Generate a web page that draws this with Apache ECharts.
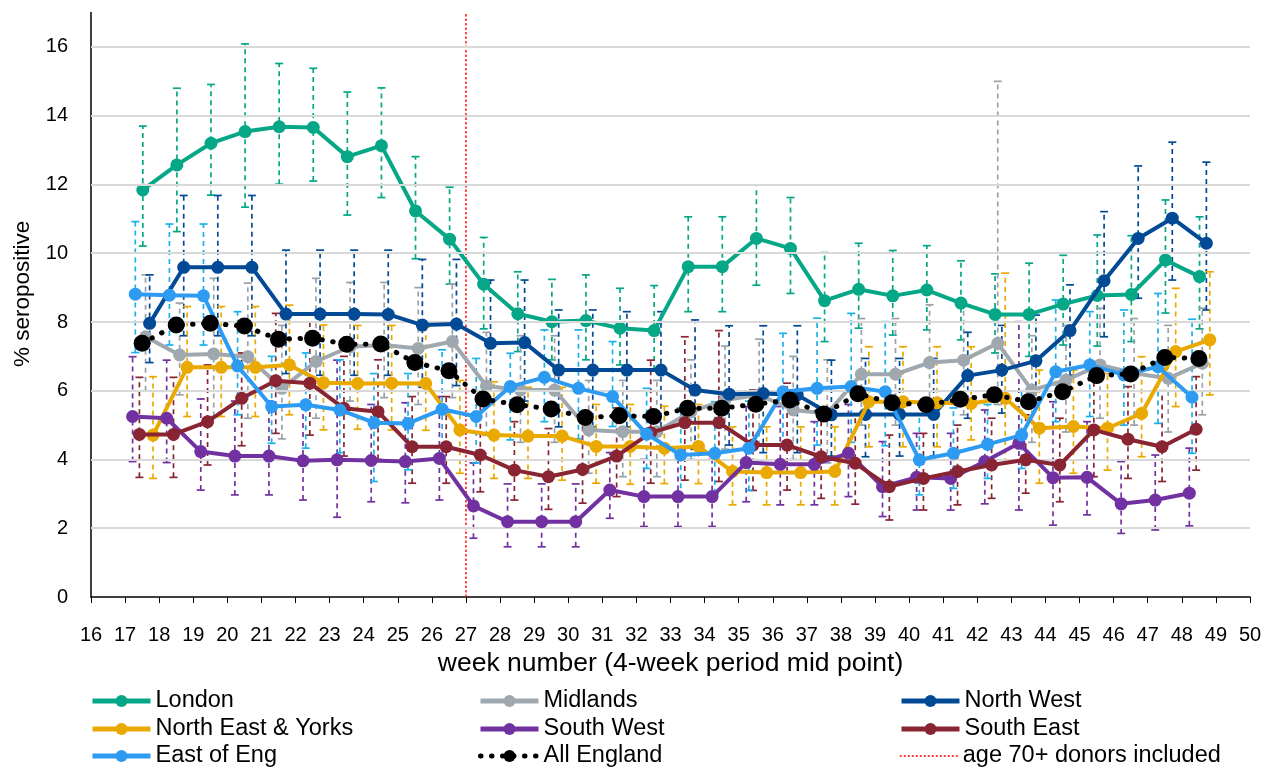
<!DOCTYPE html>
<html>
<head>
<meta charset="utf-8">
<title>% seropositive by region</title>
<script src="https://cdn.jsdelivr.net/npm/echarts@6/dist/echarts.min.js"></script>
<style>
  html, body { margin: 0; padding: 0; background: #ffffff; }
  #chart { width: 1271px; height: 769px; }
</style>
</head>
<body>
<div id="chart"></div>
<script>
// 4-week period mid points (week number) for London / All England
const weeks = [17.5, 18.5, 19.5, 20.5, 21.5, 22.5, 23.5, 24.5, 25.5, 26.5, 27.5, 28.5, 29.5, 30.5, 31.5, 32.5,
               33.5, 34.5, 35.5, 36.5, 37.5, 38.5, 39.5, 40.5, 41.5, 42.5, 43.5, 44.5, 45.5, 46.5, 47.5, 48.5];
const yTicks = [0, 2, 4, 6, 8, 10, 12, 14, 16];
const donorChangeWeek = 27;

// small horizontal shift of each region so the error bars do not overlap
const shiftLondon = 0.02, shiftMidlands = 0.1, shiftNorthWest = 0.22, shiftNEY = 0.32,
      shiftSouthWest = -0.28, shiftSouthEast = -0.08, shiftEast = -0.2, shiftEngland = 0;

const london     = [11.84, 12.57, 13.2, 13.54, 13.68, 13.66, 12.81, 13.13, 11.23, 10.41, 9.1, 8.24, 8.01, 8.04, 7.82, 7.75,
                    9.61, 9.61, 10.43, 10.14, 8.62, 8.95, 8.76, 8.93, 8.55, 8.22, 8.22, 8.52, 8.77, 8.8, 9.8, 9.32];
const londonHi   = [13.7, 14.8, 14.91, 16.09, 15.52, 15.38, 14.69, 14.81, 12.81, 11.92, 10.46, 9.46, 9.24, 9.37, 8.98, 9.06,
                    11.06, 11.06, 11.99, 11.62, 10.02, 10.29, 10.08, 10.22, 9.78, 9.4, 9.71, 9.94, 10.53, 10.51, 11.55, 11.06];
const londonLo   = [10.21, 10.63, 11.69, 11.34, 12.01, 12.1, 11.11, 11.62, 9.84, 9.1, 7.8, 7.14, 6.9, 6.9, 6.75, 6.6,
                    8.3, 8.3, 9.07, 8.83, 7.43, 7.82, 7.62, 7.77, 7.48, 7.1, 7.0, 7.33, 7.3, 7.43, 8.26, 7.8];

const midlands   = [7.57, 7.04, 7.07, 6.99, 6.07, 6.85, 7.28, 7.33, 7.23, 7.43, 6.14, 6.02, 6.02, 4.86, 4.81, 4.81,
                    5.39, 5.73, 5.88, 5.44, 5.34, 6.48, 6.48, 6.82, 6.89, 7.38, 6.02, 6.31, 6.75, 6.51, 6.36, 6.8];
const midlandsHi = [9.37, 8.55, 9.27, 9.13, 7.9, 9.27, 9.15, 9.15, 9.0, 9.1, 7.7, 7.6, 7.6, 6.3, 6.3, 6.3,
                    6.9, 7.3, 7.5, 7.0, 6.9, 8.1, 8.1, 8.5, 8.5, 15.0, 7.6, 7.9, 8.4, 8.1, 7.9, 8.4];
const midlandsLo = [6.0, 5.88, 5.25, 5.2, 4.6, 5.2, 5.7, 5.8, 5.6, 5.8, 4.7, 4.5, 4.5, 3.6, 3.5, 3.5,
                    4.0, 4.3, 4.4, 4.0, 3.9, 5.0, 5.0, 5.3, 5.3, 5.6, 4.5, 4.8, 5.2, 5.0, 4.8, 5.3];

const northWest   = [7.96, 9.59, 9.59, 9.59, 8.23, 8.23, 8.23, 8.22, 7.91, 7.94, 7.38, 7.4, 6.6, 6.6, 6.6, 6.6,
                     6.02, 5.9, 5.92, 5.88, 5.3, 5.31, 5.31, 5.31, 6.44, 6.6, 6.87, 7.75, 9.2, 10.43, 11.02, 10.29];
const northWestHi = [9.37, 11.68, 11.68, 11.68, 10.09, 10.09, 10.09, 10.09, 9.82, 9.82, 9.22, 9.22, 8.35, 8.35, 8.3, 8.3,
                     8.06, 7.89, 7.89, 7.89, 6.89, 6.94, 6.94, 6.94, 7.7, 7.9, 8.2, 9.08, 11.21, 12.54, 13.23, 12.65];
const northWestLo = [6.82, 7.6, 7.6, 7.6, 6.5, 6.45, 6.45, 6.45, 6.1, 6.15, 5.7, 5.7, 4.95, 4.95, 4.95, 4.95,
                     4.3, 4.42, 4.2, 4.2, 4.1, 4.08, 4.1, 4.1, 5.2, 5.35, 5.6, 6.45, 7.57, 8.69, 9.22, 8.35];

const northEastYorks   = [4.71, 6.68, 6.68, 6.68, 6.75, 6.23, 6.21, 6.22, 6.21, 4.86, 4.71, 4.68, 4.68, 4.38, 4.38, 4.33,
                          4.38, 3.65, 3.62, 3.62, 3.65, 5.68, 5.68, 5.65, 5.63, 5.78, 4.91, 4.96, 4.91, 5.34, 7.14, 7.48];
const northEastYorksHi = [6.41, 8.45, 8.45, 8.45, 8.49, 7.91, 7.9, 7.9, 7.85, 6.3, 6.26, 6.1, 6.1, 5.6, 5.6, 5.55,
                          5.6, 4.95, 4.95, 4.95, 4.95, 7.28, 7.28, 7.28, 7.28, 9.42, 6.6, 6.6, 6.5, 6.99, 8.98, 9.46];
const northEastYorksLo = [3.45, 5.25, 5.25, 5.25, 5.3, 4.86, 4.88, 4.86, 4.85, 3.6, 3.45, 3.45, 3.4, 3.31, 3.28, 3.3,
                          3.3, 2.68, 2.68, 2.68, 2.68, 4.37, 4.37, 4.37, 4.57, 3.9, 3.31, 3.6, 3.69, 4.08, 5.54, 5.88];

const southWest   = [5.25, 5.2, 4.23, 4.1, 4.1, 3.96, 3.99, 3.97, 3.94, 4.03, 2.65, 2.19, 2.19, 2.19, 3.11, 2.92,
                     2.92, 2.92, 3.91, 3.86, 3.86, 4.18, 3.21, 3.48, 3.45, 3.94, 4.47, 3.47, 3.48, 2.71, 2.82, 3.02];
const southWestHi = [6.99, 6.89, 5.76, 5.7, 5.7, 5.6, 6.89, 5.6, 5.65, 5.83, 3.9, 3.29, 3.29, 3.29, 4.2, 4.0,
                     4.0, 4.0, 5.54, 5.54, 5.1, 5.6, 4.52, 4.76, 4.76, 5.44, 8.01, 5.68, 5.1, 3.94, 4.13, 4.33];
const southWestLo = [3.94, 3.91, 3.11, 2.97, 2.97, 2.82, 2.32, 2.77, 2.74, 2.82, 1.71, 1.46, 1.46, 1.46, 2.29, 2.05,
                     2.05, 2.05, 2.77, 2.68, 2.68, 2.92, 2.34, 2.53, 2.53, 2.71, 2.53, 2.09, 2.39, 1.85, 1.95, 2.07];

const southEast   = [4.73, 4.73, 5.1, 5.78, 6.29, 6.22, 5.49, 5.39, 4.37, 4.37, 4.13, 3.69, 3.5, 3.71, 4.1, 4.78,
                     5.07, 5.07, 4.42, 4.42, 4.08, 3.89, 3.21, 3.45, 3.65, 3.84, 3.99, 3.84, 4.86, 4.59, 4.37, 4.88];
const southEastHi = [6.39, 6.39, 6.75, 7.1, 8.25, 8.0, 7.0, 6.9, 5.83, 5.83, 5.6, 5.1, 4.9, 5.1, 5.5, 6.89,
                     7.57, 7.75, 6.02, 6.22, 5.5, 5.3, 4.71, 4.76, 5.0, 5.2, 5.3, 5.2, 6.6, 6.12, 6.0, 6.41];
const southEastLo = [3.48, 3.48, 3.84, 4.4, 4.76, 4.71, 4.1, 4.0, 3.31, 3.31, 3.06, 2.82, 2.55, 2.73, 2.92, 3.31,
                     3.4, 3.36, 3.1, 3.11, 2.87, 2.7, 2.24, 2.53, 2.68, 2.87, 3.02, 2.77, 3.5, 3.45, 3.36, 3.69];

const eastOfEng   = [8.81, 8.78, 8.76, 6.72, 5.54, 5.59, 5.44, 5.07, 5.05, 5.46, 5.25, 6.12, 6.39, 6.07, 5.83, 4.74,
                     4.13, 4.18, 4.33, 5.97, 6.07, 6.12, 5.97, 3.99, 4.18, 4.44, 4.71, 6.55, 6.75, 6.46, 6.7, 5.81];
const eastOfEngHi = [10.92, 10.85, 10.85, 8.3, 7.0, 7.1, 6.9, 6.5, 6.5, 7.19, 6.94, 7.09, 7.77, 7.77, 7.43, 6.07,
                     5.5, 5.68, 5.7, 7.67, 8.11, 8.25, 8.01, 5.3, 5.5, 5.6, 6.0, 8.64, 8.3, 8.35, 8.83, 8.08];
const eastOfEngLo = [7.11, 7.33, 7.33, 5.3, 4.47, 4.33, 4.2, 3.36, 3.7, 4.1, 3.9, 4.57, 5.1, 4.6, 4.96, 3.74,
                     2.9, 3.0, 3.1, 4.4, 4.42, 4.5, 4.4, 2.97, 3.16, 3.45, 3.74, 5.1, 5.25, 5.0, 5.05, 4.18];

const allEngland = [7.38, 7.91, 7.96, 7.88, 7.5, 7.53, 7.35, 7.36, 6.82, 6.58, 5.76, 5.59, 5.47, 5.22, 5.27, 5.25,
                    5.49, 5.49, 5.61, 5.73, 5.32, 5.91, 5.65, 5.59, 5.75, 5.88, 5.68, 5.97, 6.44, 6.49, 6.97, 6.94];

const FONT = '"Liberation Sans", Arial, sans-serif';
const DONOR_LABEL = 'age 70+ donors included';

const regions = [
  { name: 'London',             color: '#05A786', barColor: '#05A786', shift: shiftLondon,    v: london,         lo: londonLo,         hi: londonHi },
  { name: 'Midlands',           color: '#9FA8AE', barColor: '#9AA2A8', shift: shiftMidlands,  v: midlands,       lo: midlandsLo,       hi: midlandsHi },
  { name: 'North West',         color: '#034A96', barColor: '#034A96', shift: shiftNorthWest, v: northWest,      lo: northWestLo,      hi: northWestHi },
  { name: 'North East & Yorks', color: '#EAA900', barColor: '#EAA900', shift: shiftNEY,       v: northEastYorks, lo: northEastYorksLo, hi: northEastYorksHi },
  { name: 'South West',         color: '#7231A0', barColor: '#7231A0', shift: shiftSouthWest, v: southWest,      lo: southWestLo,      hi: southWestHi },
  { name: 'South East',         color: '#892432', barColor: '#892432', shift: shiftSouthEast, v: southEast,      lo: southEastLo,      hi: southEastHi },
  { name: 'East of Eng',        color: '#2D9BF2', barColor: '#1BB0EC', shift: shiftEast,      v: eastOfEng,      lo: eastOfEngLo,      hi: eastOfEngHi }
];

function errorBarRenderer(color) {
  return function (params, api) {
    const x = api.value(0);
    const lo = api.coord([x, api.value(1)]);
    const hi = api.coord([x, api.value(2)]);
    const cap = 4;
    return {
      type: 'group',
      children: [
        { type: 'line', shape: { x1: lo[0], y1: lo[1], x2: hi[0], y2: hi[1] },
          style: { stroke: color, lineWidth: 1.7, lineDash: [5, 4] } },
        { type: 'line', shape: { x1: hi[0] - cap, y1: hi[1], x2: hi[0] + cap, y2: hi[1] },
          style: { stroke: color, lineWidth: 1.7 } },
        { type: 'line', shape: { x1: lo[0] - cap, y1: lo[1], x2: lo[0] + cap, y2: lo[1] },
          style: { stroke: color, lineWidth: 1.7 } }
      ]
    };
  };
}

const series = [];

// error bars underneath the lines
regions.forEach(function (r) {
  series.push({
    name: r.name + ' interval',
    type: 'custom',
    renderItem: errorBarRenderer(r.barColor),
    encode: { x: 0, y: [1, 2] },
    data: weeks.map(function (w, i) { return [w + r.shift, r.lo[i], r.hi[i]]; }),
    z: 1,
    silent: true
  });
});

regions.forEach(function (r, k) {
  series.push({
    name: r.name,
    type: 'line',
    data: weeks.map(function (w, i) { return [w + r.shift, r.v[i]]; }),
    symbol: 'circle',
    symbolSize: 13,
    itemStyle: { color: r.color },
    lineStyle: { color: r.color, width: 4 },
    z: 3 + k
  });
});

series.push({
  name: 'All England',
  type: 'line',
  data: weeks.map(function (w, i) { return [w + shiftEngland, allEngland[i]]; }),
  symbol: 'circle',
  symbolSize: 17,
  itemStyle: { color: '#000000' },
  lineStyle: { color: '#000000', width: 5, type: [0.5, 10.5], cap: 'round' },
  z: 12
});

series.push({
  name: DONOR_LABEL,
  type: 'line',
  data: [[donorChangeWeek, 0], [donorChangeWeek, 17]],
  symbol: 'none',
  itemStyle: { color: '#FF0000' },
  lineStyle: { color: '#FF0000', width: 1.4, type: [2.5, 2] },
  z: 2
});

// horizontal gridlines at the labelled ticks
series.push({
  name: 'grid',
  type: 'line',
  data: [],
  silent: true,
  z: 0,
  markLine: {
    silent: true,
    symbol: 'none',
    label: { show: false },
    lineStyle: { color: '#D9D9D9', width: 2, type: 'solid' },
    data: yTicks.filter(function (t) { return t > 0; }).map(function (t) { return { yAxis: t }; })
  }
});

// legend: three columns of three entries, one legend box per entry
const legendColumns = [
  ['London', 'North East & Yorks', 'East of Eng'],
  ['Midlands', 'South West', 'All England'],
  ['North West', 'South East', DONOR_LABEL]
];
const legendColumnLeft = [90, 478, 899];
const legendRowTop = [689, 717, 744];
const legends = [];
legendColumns.forEach(function (col, c) {
  col.forEach(function (n, r) {
    const item = (n === DONOR_LABEL)
      ? { name: n, itemStyle: { opacity: 0 }, lineStyle: { width: 1.5, type: [2, 2], color: '#FF0000' } }
      : n;
    legends.push({
      orient: 'horizontal', left: legendColumnLeft[c], top: legendRowTop[r], padding: 0,
      itemWidth: 58, itemHeight: 15, itemTextGap: 5,
      textStyle: { fontFamily: FONT, fontSize: 23.5, color: '#000000', lineHeight: 24 },
      lineStyle: { width: 5 },
      selectedMode: false,
      data: [item]
    });
  });
});

const option = {
  backgroundColor: '#ffffff',
  animation: false,
  textStyle: { fontFamily: FONT },
  grid: { left: 91, right: 21, top: 12.6, bottom: 172, containLabel: false },
  legend: legends,
  xAxis: {
    type: 'value', min: 16, max: 50, interval: 1,
    name: 'week number (4-week period mid point)',
    nameLocation: 'middle', nameGap: 51,
    nameTextStyle: { fontFamily: FONT, fontSize: 26.5, color: '#000000' },
    axisLine: { show: true, lineStyle: { color: '#000000', width: 1.5 } },
    axisTick: { show: true, length: 6, lineStyle: { color: '#000000', width: 1 } },
    axisLabel: { fontFamily: FONT, fontSize: 20, color: '#000000', margin: 28 },
    splitLine: { show: false }
  },
  yAxis: {
    type: 'value', min: 0, max: 17, interval: 2,
    name: '% seropositive',
    nameLocation: 'middle', nameGap: 57, nameRotate: 90,
    nameTextStyle: { fontFamily: FONT, fontSize: 22.5, color: '#000000', padding: [0, 0, 0, 22] },
    axisLine: { show: true, lineStyle: { color: '#000000', width: 1.5 } },
    axisTick: { show: false },
    axisLabel: {
      fontFamily: FONT, fontSize: 20, color: '#000000', margin: 23,
      formatter: function (v) { return yTicks.indexOf(v) >= 0 ? String(v) : ''; }
    },
    splitLine: { show: false }
  },
  series: series
};

const chart = echarts.init(document.getElementById('chart'), null, { renderer: 'canvas' });
chart.setOption(option);
</script>
</body>
</html>
